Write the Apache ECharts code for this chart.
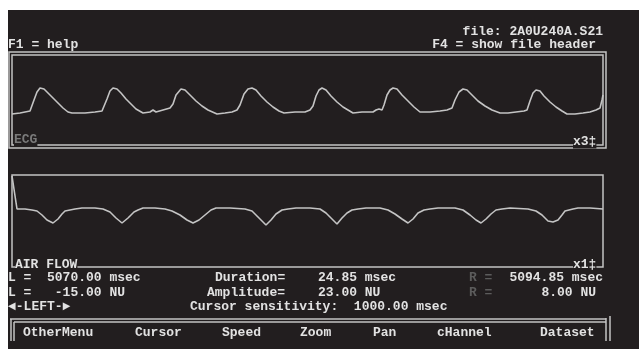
<!DOCTYPE html>
<html><head><meta charset="utf-8">
<script src="https://cdn.jsdelivr.net/npm/echarts@6/dist/echarts.min.js"></script>
<style>html,body{margin:0;padding:0;background:#fff;}#c{width:639px;height:349px;}</style>
</head><body><div id="c"></div>
<script>
// ECG channel (time in msec, amplitude in NU)
var ecgTime = [0,80,180,200,220,250,280,320,360,410,460,510,560,600,730,830,900,920,950,980,1010,1050,1090,1140,1190,1240,1310,1380,1410,1440,1510,1580,1610,1640,1690,1730,1780,1840,1900,1960,2050,2130,2200,2250,2280,2320,2360,2400,2440,2490,2550,2610,2670,2720,2830,2930,2980,3010,3040,3070,3100,3140,3190,3250,3310,3360,3410,3500,3610,3640,3670,3700,3720,3750,3780,3810,3850,3900,3960,4020,4080,4180,4280,4350,4400,4430,4470,4510,4550,4600,4660,4730,4800,4880,4960,5040,5120,5150,5180,5210,5240,5280,5320,5380,5440,5500,5550,5630,5710,5780,5840,5880,5900,5910];
var ecgValue = [31,32,34,36,45,53,57,56,52,47,42,37,33,32,32,33,34,35,46,54,57,56,52,46,41,36,32,33,35,33,35,37,41,50,56,55,50,44,39,35,31,32,33,35,40,51,56,57,55,49,43,38,34,32,33,33,35,39,49,55,57,55,49,43,38,35,32,33,33,35,36,35,40,50,55,57,56,50,44,38,33,33,34,35,37,45,53,56,55,50,44,39,35,32,32,33,34,35,44,52,55,54,49,43,38,34,31,31,32,33,35,37,45,50];
// AIR FLOW channel
var airTime = [0,50,130,200,250,300,350,410,460,500,530,580,630,700,830,910,980,1040,1100,1160,1220,1260,1310,1430,1530,1600,1680,1750,1810,1870,1930,1990,2040,2180,2330,2400,2470,2540,2590,2640,2700,2760,2840,2980,3080,3140,3200,3250,3300,3350,3400,3460,3540,3680,3760,3830,3900,3960,4010,4060,4120,4180,4260,4430,4510,4580,4640,4690,4740,4790,4840,4900,4980,5160,5240,5300,5360,5410,5460,5500,5530,5570,5610,5660,5780,5910];
var airValue = [91,58,58,57,56,52,47,44,48,53,56,57,58,59,59,58,55,49,44,49,55,57,59,59,58,56,52,47,44,47,52,57,59,59,58,56,49,42,47,53,57,58,59,59,58,54,48,43,49,54,57,58,59,59,57,53,48,44,48,54,57,58,59,59,57,52,47,44,48,53,57,58,59,58,56,52,46,45,47,52,56,57,58,59,59,58];
// Texts
var fileLabel = "file: 2A0U240A.S21";
var helpLabel = "F1 = help";
var headerLabel = "F4 = show file header";
var row1 = ["L =  5070.00 msec", "Duration=", "24.85 msec", "R =", "5094.85 msec"];
var row2 = ["L =   -15.00 NU", "Amplitude=", "23.00 NU", "R =", "8.00 NU"];
var row3 = ["\u25C4-LEFT-\u25BA", "Cursor sensitivity:  1000.00 msec"];
var menuItems = ["OtherMenu", "Cursor", "Speed", "Zoom", "Pan", "cHannel", "Dataset"];
var menuX = [23, 135, 222, 300, 373, 437, 540];

function pairs(t, v) { return t.map(function (x, i) { return [x, v[i]]; }); }

var FONT = '"Liberation Mono","DejaVu Sans Mono",monospace';
var TXT = '#e2e2e2', LINE = '#c4c4c4', DIM = '#5c5c5c', BG = '#221e1f';
function txt(s, x, y, opts) {
  opts = opts || {};
  return { type: 'text', z: 10, x: x, y: y, style: {
    text: s, fill: opts.fill || TXT, font: 'bold 13px ' + FONT,
    textAlign: opts.align || 'left', textVerticalAlign: 'middle',
    backgroundColor: opts.bg || null, padding: opts.pad || 0 } };
}
function ln(x1, y1, x2, y2) {
  return { type: 'line', z: 5, shape: { x1: x1, y1: y1, x2: x2, y2: y2 }, style: { stroke: LINE, lineWidth: 1.5 } };
}
function box(x, y, w, h) {
  return { type: 'rect', z: 5, shape: { x: x, y: y, width: w, height: h }, style: { fill: null, stroke: LINE, lineWidth: 1.5 } };
}

var g = [
  { type: 'rect', z: 0, shape: { x: 8, y: 10, width: 631, height: 339 }, style: { fill: BG } },
  txt(fileLabel, 603, 32, { align: 'right' }),
  txt(headerLabel, 596, 45, { align: 'right' }),
  txt(helpLabel, 8, 45),
  box(9, 52, 597, 96), box(12, 55, 591, 90),
  txt('ECG', 14, 140, { fill: '#7a7a7a', bg: BG }),
  txt('x3\u2021', 573, 142, { bg: BG }),
  box(12, 175, 591, 92),
  txt('AIR FLOW', 15, 265, { bg: BG }),
  txt('x1\u2021', 573, 265, { bg: BG }),
  txt(row1[0], 8, 278), txt(row1[1], 215, 278), txt(row1[2], 318, 278),
  txt(row1[3], 469, 278, { fill: DIM }), txt(row1[4], 603, 278, { align: 'right' }),
  txt(row2[0], 8, 293), txt(row2[1], 207, 293), txt(row2[2], 318, 293),
  txt(row2[3], 469, 293, { fill: DIM }), txt(row2[4], 596, 293, { align: 'right' }),
  txt(row3[0], 8, 307), txt(row3[1], 190, 307),
  ln(10, 319, 606, 319), ln(14, 322, 606, 322),
  ln(11, 319, 11, 341), ln(14, 322, 14, 341),
  ln(606, 318, 606, 341), ln(610, 316, 610, 341)
];
menuItems.forEach(function (m, i) { g.push(txt(m, menuX[i], 333)); });

var chart = echarts.init(document.getElementById('c'), null, { renderer: 'canvas' });
chart.setOption({
  animation: false,
  backgroundColor: '#ffffff',
  grid: [
    { left: 12, top: 55, width: 591, height: 90 },
    { left: 12, top: 175, width: 591, height: 92 }
  ],
  xAxis: [
    { type: 'value', gridIndex: 0, min: 0, max: 5910, show: false },
    { type: 'value', gridIndex: 1, min: 0, max: 5910, show: false }
  ],
  yAxis: [
    { type: 'value', gridIndex: 0, min: 0, max: 90, show: false },
    { type: 'value', gridIndex: 1, min: 0, max: 92, show: false }
  ],
  series: [
    { name: 'ECG', type: 'line', xAxisIndex: 0, yAxisIndex: 0, data: pairs(ecgTime, ecgValue),
      symbol: 'none', lineStyle: { color: LINE, width: 1.6 }, z: 8 },
    { name: 'AIR FLOW', type: 'line', xAxisIndex: 1, yAxisIndex: 1, data: pairs(airTime, airValue),
      symbol: 'none', lineStyle: { color: LINE, width: 1.6 }, z: 8 }
  ],
  graphic: g
});
</script></body></html>
